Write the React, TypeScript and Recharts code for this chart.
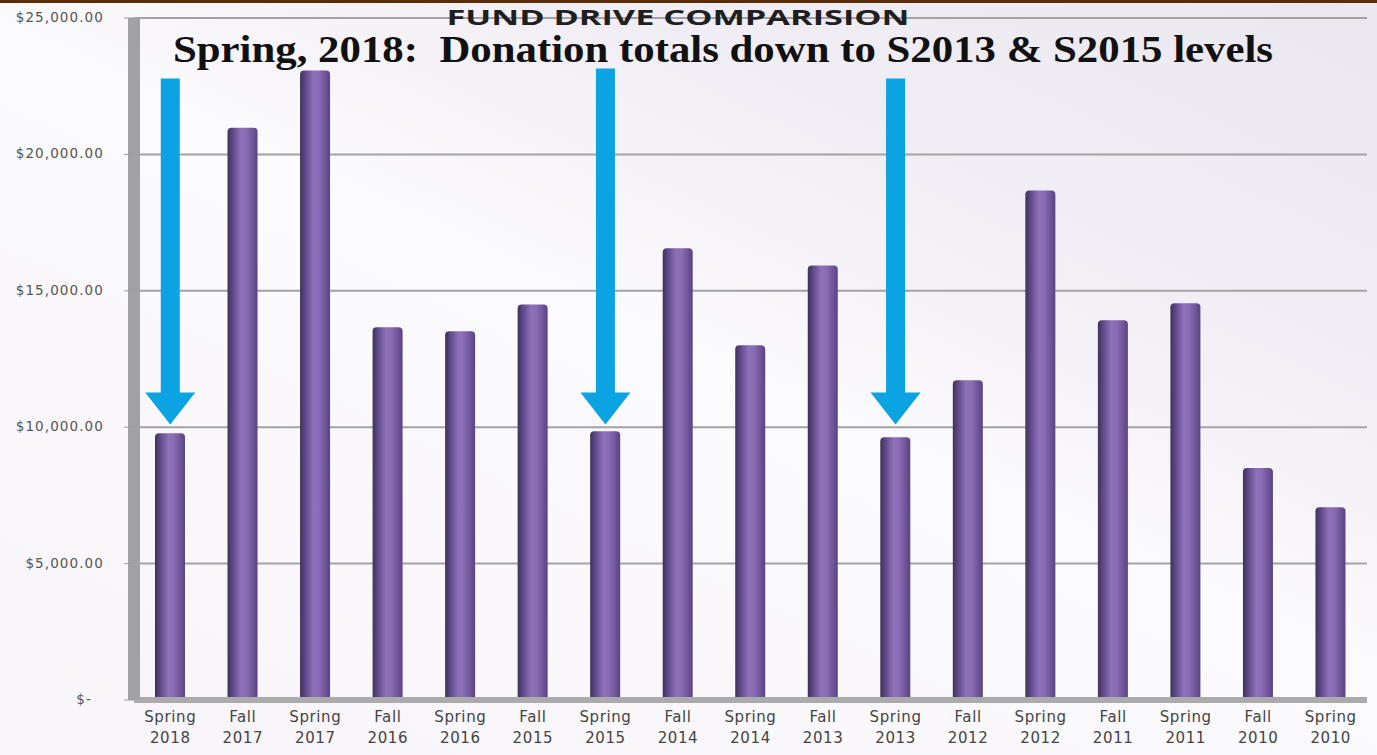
import { ComposedChart, Bar, XAxis, YAxis, CartesianGrid, ReferenceLine } from "recharts";

const drives = [
    "Spring 2018", "Fall 2017", "Spring 2017", "Fall 2016", "Spring 2016", "Fall 2015",
    "Spring 2015", "Fall 2014", "Spring 2014", "Fall 2013", "Spring 2013", "Fall 2012",
    "Spring 2012", "Fall 2011", "Spring 2011", "Fall 2010", "Spring 2010"
];
const totals = [
    9780, 20980, 23080, 13660, 13520, 14500, 9850, 16560, 13000, 15930, 9630, 11720,
    18680, 13920, 14540, 8500, 7070
];
const yTicks = [0, 5000, 10000, 15000, 20000, 25000];

// blue call-out arrows: which drive, where the tail starts, where the tip lands
const arrowDrives = ["Spring 2018", "Spring 2015", "Spring 2013"];
const arrowTops = [22780, 23150, 22780];
const arrowTips = [10100, 10100, 10100];

const title = "FUND DRIVE COMPARISION";
const subtitle = "Spring, 2018:  Donation totals down to S2013 & S2015 levels";

const data = drives.map((name, i) => ({ name, total: totals[i] }));

const money = (v: number) =>
    v === 0 ? "$-" : `$${v.toLocaleString("en-US", { minimumFractionDigits: 2, maximumFractionDigits: 2 })}`;

function YTick({ x, y, payload }: any) {
    const v = payload.value;
    return (
        <text
            x={v === 0 ? x - 12 : x}
            y={y}
            dy={4}
            textAnchor="end"
            fontFamily="DejaVu Sans"
            fontSize={13.5}
            letterSpacing={1.1}
            fill="#555"
        >
            {money(v)}
        </text>
    );
}

function XTick({ x, y, payload }: any) {
    const [season, year] = String(payload.value).split(" ");
    return (
        <text x={x} y={y} textAnchor="middle" fontFamily="DejaVu Sans" fontSize={15} letterSpacing={0.6} fill="#444">
            <tspan x={x} dy={14}>{season}</tspan>
            <tspan x={x} dy={21}>{year}</tspan>
        </text>
    );
}

function Arrow(props: any) {
    const { x1, y1, y2 } = props;
    const top = Math.min(y1, y2);
    const tip = Math.max(y1, y2);
    const shaft = 9.5;
    const head = 25;
    const headH = 32;
    const pts = [
        [x1 - shaft, top],
        [x1 + shaft, top],
        [x1 + shaft, tip - headH],
        [x1 + head, tip - headH],
        [x1, tip],
        [x1 - head, tip - headH],
        [x1 - shaft, tip - headH],
    ].map(p => p.join(",")).join(" ");
    return <polygon points={pts} fill="#0ba3e2" />;
}

export default function App() {
    return (
        <div
            style={{
                position: "relative",
                width: 1377,
                height: 755,
                overflow: "hidden",
                background: "linear-gradient(205deg, #ebe7ef 0%, #f2eef5 28%, #fbfafc 48%, #f8f5fa 100%)",
            }}
        >
            <style>{`body { margin: 0; }`}</style>
            <ComposedChart
                width={1377}
                height={755}
                data={data}
                margin={{ top: 18, right: 10, left: 0, bottom: 25 }}
                barCategoryGap={0}
            >
                <defs>
                    <linearGradient id="cyl" x1="0" y1="0" x2="1" y2="0">
                        <stop offset="0%" stopColor="#3f3159" />
                        <stop offset="18%" stopColor="#5f4a8a" />
                        <stop offset="45%" stopColor="#8f71ba" />
                        <stop offset="62%" stopColor="#8a6cb4" />
                        <stop offset="100%" stopColor="#5a4384" />
                    </linearGradient>
                </defs>
                <CartesianGrid vertical={false} stroke="#a3a3a7" strokeWidth={2} />
                <XAxis
                    dataKey="name"
                    interval={0}
                    tickLine={false}
                    axisLine={{ stroke: "#ababae", strokeWidth: 6 }}
                    tick={<XTick />}
                    height={30}
                />
                <YAxis
                    domain={[0, 25000]}
                    ticks={yTicks}
                    width={134}
                    tickSize={10}
                    tickMargin={20}
                    tickLine={{ stroke: "#9a9a9a" }}
                    axisLine={{ stroke: "#a2a2a5", strokeWidth: 12 }}
                    tick={<YTick />}
                />
                <Bar dataKey="total" barSize={30} fill="url(#cyl)" radius={[4, 4, 0, 0]} isAnimationActive={false} />
                {arrowDrives.map((d, i) => (
                    <ReferenceLine
                        key={d}
                        segment={[{ x: d, y: arrowTops[i] }, { x: d, y: arrowTips[i] }]}
                        shape={<Arrow />}
                        ifOverflow="visible"
                    />
                ))}
            </ComposedChart>
            <svg width={1377} height={80} style={{ position: "absolute", left: 0, top: 0 }}>
                <text
                    x={678}
                    y={25}
                    textAnchor="middle"
                    fontFamily="Open Sans"
                    fontWeight="bold"
                    fontSize={22}
                    textLength={463}
                    lengthAdjust="spacingAndGlyphs"
                    fill="#1f1f1f"
                >
                    {title}
                </text>
                <text
                    x={173}
                    y={62}
                    fontFamily="Liberation Serif"
                    fontWeight="bold"
                    fontSize={37}
                    textLength={1100}
                    lengthAdjust="spacingAndGlyphs"
                    fill="#111"
                    style={{ whiteSpace: "pre" }}
                >
                    {subtitle}
                </text>
            </svg>
            <div style={{ position: "absolute", left: 0, top: 0, width: 1377, height: 3, background: "#5b2c08" }} />
        </div>
    );
}
